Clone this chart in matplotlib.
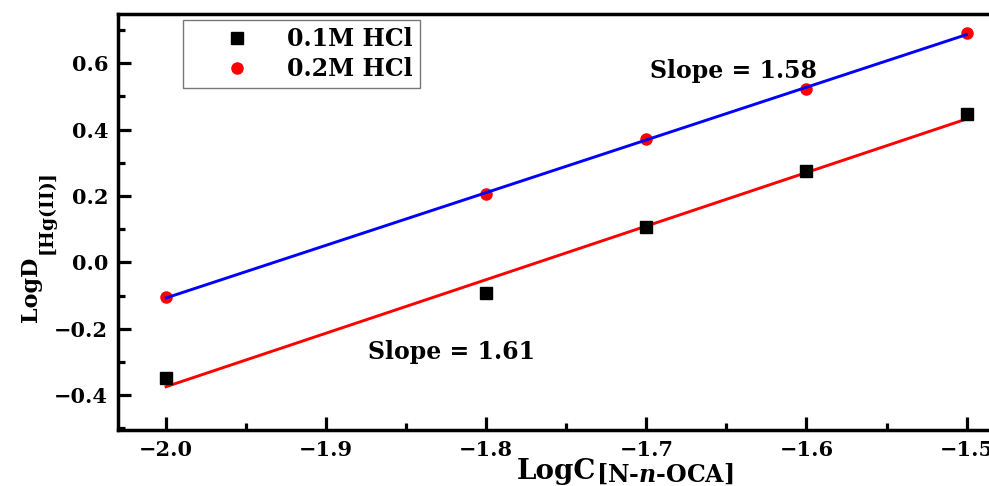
import numpy as np
import matplotlib
matplotlib.use("Agg")
import matplotlib.pyplot as plt
from matplotlib.ticker import MultipleLocator

# Data
log_c = [-2.0, -1.8, -1.7, -1.6, -1.5]
d_01M = [-0.349, -0.093, 0.105, 0.274, 0.448]
d_02M = [-0.105, 0.207, 0.370, 0.523, 0.690]
series_labels = ["0.1M HCl", "0.2M HCl"]
slope_labels = ["Slope = 1.61", "Slope = 1.58"]
x_ticks = [-2.0, -1.9, -1.8, -1.7, -1.6, -1.5]
y_ticks = [-0.4, -0.2, 0.0, 0.2, 0.4, 0.6]

plt.rcParams['font.family'] = ['DejaVu Serif']
plt.rcParams['font.weight'] = 'bold'
plt.rcParams['mathtext.fontset'] = 'dejavuserif'

W, H = 989, 486
fig = plt.figure(figsize=(W / 100, H / 100), dpi=100)
ax = fig.add_axes([118 / W, 56 / H, 871 / W, 416 / H])

def px(x, y):
    return x / W, 1 - y / H

x = np.array(log_c)
fit1 = np.polyfit(x, d_01M, 1)
fit2 = np.polyfit(x, d_02M, 1)
xf = np.array([log_c[0], log_c[-1]])

ax.plot(xf, np.polyval(fit1, xf), color='red', lw=2.1, zorder=2)
ax.plot(xf, np.polyval(fit2, xf), color='blue', lw=2.1, zorder=2)
ax.plot(log_c, d_01M, 's', color='black', ms=8, label=series_labels[0], zorder=3)
ax.plot(log_c, d_02M, 'o', color='red', ms=8, label=series_labels[1], zorder=1)

ax.set_xlim(-2.03, -1.486)
ax.set_ylim(-0.505, 0.748)
ax.set_xticks(x_ticks)
ax.set_yticks(y_ticks)
ax.set_xticklabels([f"{v:.1f}".replace('-', '\u2212') for v in x_ticks])
ax.set_yticklabels([f"{v:.1f}".replace('-', '\u2212') if v != 0 else "0.0" for v in y_ticks])
ax.xaxis.set_minor_locator(MultipleLocator(0.05))
ax.yaxis.set_minor_locator(MultipleLocator(0.1))
ax.tick_params(which='both', direction='in', top=False, right=False, width=2.3)
ax.tick_params(which='major', length=9.5, labelsize=15, pad=7)
ax.tick_params(which='minor', length=5)
for lab in ax.get_xticklabels() + ax.get_yticklabels():
    lab.set_fontweight('bold')

for s in ['left', 'bottom', 'top']:
    ax.spines[s].set_linewidth(2.5)
ax.spines['right'].set_visible(False)

ax.text(-1.6975, 0.577, slope_labels[1], fontsize=17, fontweight='bold', va='center', ha='left')
ax.text(-1.874, -0.271, slope_labels[0], fontsize=17, fontweight='bold', va='center', ha='left')

leg = ax.legend(loc='upper left', bbox_to_anchor=((183 - 118) / 871, (430 - 20) / 416),
                borderaxespad=0, fancybox=False, edgecolor='#555555', fontsize=17,
                handletextpad=0.1, borderpad=0.3, labelspacing=0.25, handlelength=4.0)
leg.get_frame().set_linewidth(1.0)
for t in leg.get_texts():
    t.set_fontweight('bold')

# Axis titles: main part and (large) subscript as separate texts
xl_main = fig.text(*px(517, 479), 'LogC', fontsize=20, fontweight='bold',
                   ha='left', va='baseline')
yl_main = fig.text(*px(37, 322), 'LogD', fontsize=16, fontweight='bold',
                   ha='left', va='baseline', rotation=90, rotation_mode='anchor')
fig.canvas.draw()
r = fig.canvas.get_renderer()
bx = xl_main.get_window_extent(r)
by = yl_main.get_window_extent(r)
fig.text(bx.x1 / W, 1 - 482 / H, r'$\mathbf{[N\u2010}\mathbfit{n}\mathbf{\u2010OCA]}$'.replace('\\u2010', '\u2010'),
         fontsize=17, ha='left', va='baseline')
fig.text(54 / W, by.y1 / H, r'$\mathbf{[Hg(II)]}$', fontsize=13.5, ha='left', va='baseline',
         rotation=90, rotation_mode='anchor')

fig.savefig('out.png', dpi=100)
